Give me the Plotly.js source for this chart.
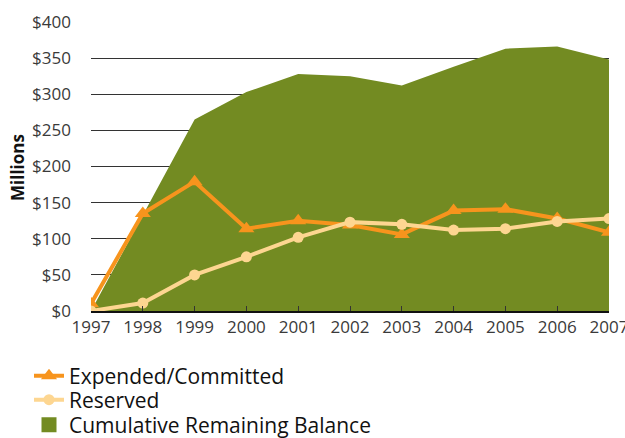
<!DOCTYPE html>
<html>
<head>
<meta charset="utf-8">
<script src="https://cdn.plot.ly/plotly-3.0.1.min.js"></script>
<style>html,body{margin:0;padding:0;background:#fff;}#chart{width:625px;height:438px;}</style>
</head>
<body>
<div id="chart"></div>
<script>
var years = [1997, 1998, 1999, 2000, 2001, 2002, 2003, 2004, 2005, 2006, 2007];
var expended = [10, 135, 179, 114, 125, 119, 106, 139, 141, 128, 109];
var reserved = [0, 11, 50, 75, 102, 123, 120, 112, 114, 124, 128];
var balance = [0, 133, 265, 303, 328, 325, 312, 338, 363, 366, 348];
var yTicks = [0, 50, 100, 150, 200, 250, 300, 350, 400];
var yTickText = yTicks.map(function (v) { return '$' + v; });

var green = '#738b22', orange = '#f7941d', cream = '#fdd691';
var fontFam = '"Open Sans", "Noto Sans", sans-serif';

var traces = [
  {x: years, y: balance, type: 'scatter', mode: 'lines', fill: 'tozeroy',
   fillcolor: green, line: {width: 0, color: green}, showlegend: false, hoverinfo: 'skip'},
  {x: [null], y: [null], type: 'scatter', mode: 'markers', name: 'Cumulative Remaining Balance',
   marker: {symbol: 'square', size: 15, color: green}, legend: 'legend3'},
  {x: years, y: expended, type: 'scatter', mode: 'lines+markers', name: 'Expended/Committed',
   line: {color: orange, width: 4}, marker: {symbol: 'triangle-up', size: 14, color: orange}, legend: 'legend'},
  {x: years, y: reserved, type: 'scatter', mode: 'lines+markers', name: 'Reserved',
   line: {color: cream, width: 4}, marker: {symbol: 'circle', size: 11, color: cream}, legend: 'legend2'}
];

function leg(yc) {
  return {xref: 'container', yref: 'container', x: 29 / 625, y: 1 - yc / 438, yanchor: 'middle', xanchor: 'left',
    font: {family: fontFam, size: 21, color: '#111'}, bgcolor: 'rgba(0,0,0,0)', itemwidth: 30};
}

var layout = {
  width: 625, height: 438,
  margin: {l: 91, r: 16, t: 22, b: 127, autoexpand: false},
  paper_bgcolor: '#fff', plot_bgcolor: '#fff',
  font: {family: fontFam, color: '#333'},
  xaxis: {range: [1997, 2007], tickvals: years, ticks: 'inside', ticklen: 5, tickcolor: '#333',
    showline: true, linecolor: '#111', linewidth: 1.5, showgrid: false, zeroline: false, tickangle: 0,
    automargin: false, ticklabeloverflow: 'allow', tickfont: {size: 17, color: '#3a3a3a'}, fixedrange: true},
  yaxis: {range: [0, 400], tickvals: yTicks, ticktext: yTickText, showgrid: true, gridcolor: '#333', gridwidth: 1,
    zeroline: false, showline: false, ticks: '', ticklabelstandoff: 19, automargin: false,
    ticklabeloverflow: 'allow', tickfont: {size: 17, color: '#3a3a3a'}, fixedrange: true},
  annotations: [{
    text: '<b>Millions</b>', xref: 'paper', yref: 'paper', x: 0, y: (311 - 168) / 289,
    xanchor: 'center', yanchor: 'middle', xshift: -74, textangle: -90, showarrow: false,
    font: {family: fontFam, size: 17, color: '#111'}
  }],
  legend: leg(376),
  legend2: leg(400),
  legend3: leg(425),
  showlegend: true
};

Plotly.newPlot('chart', traces, layout, {displayModeBar: false, staticPlot: true});
</script>
</body>
</html>
